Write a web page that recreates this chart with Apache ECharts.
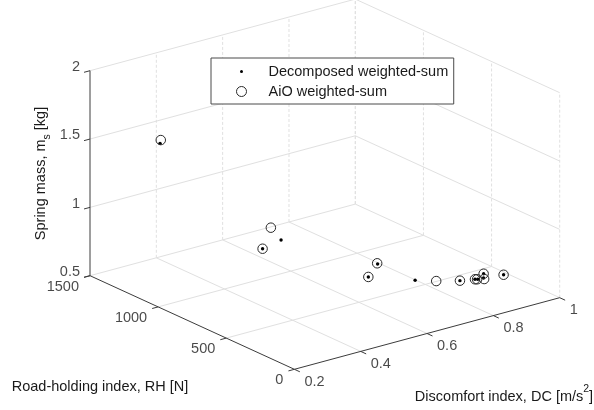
<!DOCTYPE html>
<html><head><meta charset="utf-8">
<style>html,body{margin:0;padding:0;background:#fff}#c{width:594px;height:410px}</style>
<script src="https://cdn.jsdelivr.net/npm/echarts@6/dist/echarts.min.js"></script>
</head><body><div id="c"></div>
<script>
// Tick values
var dcTicks = [0.2, 0.4, 0.6, 0.8, 1];
var rhTicks = [0, 500, 1000, 1500];
var msTicks = [0.5, 1, 1.5, 2];
// Decomposed weighted-sum
var decDC = [0.315, 0.484, 0.441, 0.681, 0.621, 0.730, 0.836, 0.881, 0.876, 0.921, 0.903, 0.966];
var decRH = [1266, 789, 820, 560, 482, 404, 333, 312, 320, 366, 323, 329];
var decMs = [1.5, 0.9, 0.85, 0.7, 0.68, 0.62, 0.58, 0.57, 0.57, 0.56, 0.56, 0.54];
// AiO weighted-sum
var aioDC = [0.33, 0.459, 0.441, 0.683, 0.621, 0.778, 0.836, 0.880, 0.876, 0.921, 0.900, 0.966];
var aioRH = [1297, 803, 820, 568, 482, 366, 333, 314, 320, 366, 311, 329];
var aioMs = [1.5, 1.0, 0.85, 0.7, 0.68, 0.6, 0.58, 0.57, 0.57, 0.56, 0.56, 0.54];

var FONT = '"Liberation Sans", Arial, sans-serif';
var TEXT = '#1a1a1a', AXIS = '#3c3c3c', GRID = '#e0e0e0';
var FS = 14.5;

// Orthographic view of the 3D box onto the page plane
function project(dc, rh, ms) {
  var u = (dc - 0.2) / 0.8, v = rh / 1500, w = (ms - 0.5) / 1.5;
  return [294.4 + 265.3 * u - 204.4 * v, 369.3 - 71.6 * u - 93.6 * v - 205 * w];
}
function seg(a, b, color, dash) {
  return { type: 'line', silent: true, symbol: 'none', z: dash ? 1 : 3, animation: false,
    lineStyle: { color: color, width: 1, type: dash || 'solid' }, data: [a, b] };
}
function tickLabels(items, align, dx, dy) {
  return { type: 'scatter', silent: true, symbolSize: 0, z: 5, animation: false,
    data: items.map(function (t) { return { value: t.p, name: t.s }; }),
    label: { show: true, position: 'inside', offset: [dx, dy], align: align, verticalAlign: 'middle',
      formatter: function (o) { return o.name; }, color: TEXT, fontFamily: FONT, fontSize: FS } };
}
var series = [];
var dc0 = 0.2, dc1 = 1, rh0 = 0, rh1 = 1500, ms0 = 0.5, ms1 = 2;
var DOT = [3, 2];
// Back walls and floor grid
dcTicks.forEach(function (d) {
  if (d > dc0) {
    series.push(seg(project(d, rh1, ms0), project(d, rh1, ms1), GRID, DOT));
    series.push(seg(project(d, rh0, ms0), project(d, rh1, ms0), GRID, 'solid'));
  }
});
rhTicks.forEach(function (r) {
  series.push(seg(project(dc1, r, ms0), project(dc1, r, ms1), GRID, DOT));
  if (r > rh0) series.push(seg(project(dc0, r, ms0), project(dc1, r, ms0), GRID, 'solid'));
});
msTicks.forEach(function (m) {
  if (m > ms0) {
    series.push(seg(project(dc0, rh1, m), project(dc1, rh1, m), GRID, 'solid'));
    series.push(seg(project(dc1, rh1, m), project(dc1, rh0, m), GRID, 'solid'));
  }
});
// Axis lines
series.push(seg(project(dc0, rh1, ms0), project(dc0, rh1, ms1), AXIS));
series.push(seg(project(dc0, rh0, ms0), project(dc0, rh1, ms0), AXIS));
series.push(seg(project(dc0, rh0, ms0), project(dc1, rh0, ms0), AXIS));
// Tick marks
msTicks.forEach(function (m) { series.push(seg(project(dc0, rh1, m), project(dc0 - 0.018, rh1, m), AXIS)); });
rhTicks.forEach(function (r) { series.push(seg(project(dc0, r, ms0), project(dc0 - 0.018, r, ms0), AXIS)); });
dcTicks.forEach(function (d) { series.push(seg(project(d, rh0, ms0), project(d, rh0 - 40, ms0), AXIS)); });
// Tick labels
series.push(tickLabels(msTicks.map(function (m) { return { p: project(dc0, rh1, m), s: String(m) }; }), 'right', -10, -3.7));
series.push(tickLabels(rhTicks.map(function (r) { return { p: project(dc0, r, ms0), s: String(r) }; }), 'right', -11, 11));
series.push(tickLabels(dcTicks.map(function (d) { return { p: project(d, rh0, ms0), s: String(d) }; }), 'left', 10, 12.7));
// Data
function pts(dc, rh, ms) { return dc.map(function (d, i) { return project(d, rh[i], ms[i]); }); }
series.push({ name: 'Decomposed weighted-sum', type: 'scatter', symbol: 'circle', symbolSize: 3.4, z: 4, animation: false,
  itemStyle: { color: '#000', opacity: 1 }, data: pts(decDC, decRH, decMs) });
series.push({ name: 'AiO weighted-sum', type: 'scatter', symbol: 'circle', symbolSize: 9.5, z: 4, animation: false,
  itemStyle: { color: 'transparent', borderColor: '#2a2a2a', borderWidth: 1, opacity: 1 }, data: pts(aioDC, aioRH, aioMs) });

var chart = echarts.init(document.getElementById('c'), null, { renderer: 'canvas' });
chart.setOption({
  animation: false, backgroundColor: '#fff',
  grid: { left: 0, top: 0, width: 594, height: 410 },
  xAxis: { type: 'value', min: 0, max: 594, show: false },
  yAxis: { type: 'value', min: 0, max: 410, inverse: true, show: false },
  legend: {
    left: 211, top: 58, orient: 'vertical', itemWidth: 32, itemHeight: 10, itemGap: 5,
    padding: [6, 5.5, 5, 25], backgroundColor: '#fff', borderColor: '#4a4a4a', borderWidth: 1,
    textStyle: { color: TEXT, fontFamily: FONT, fontSize: FS, padding: [0, 0, 0, 6] },
    selectedMode: false,
    data: [
      { name: 'Decomposed weighted-sum', icon: 'path://M0 0L0 0M10 10L10 10M3.5 5A1.5 1.5 0 1 1 6.5 5A1.5 1.5 0 1 1 3.5 5Z' },
      { name: 'AiO weighted-sum', icon: 'circle', itemStyle: { borderWidth: 1, color: 'transparent', borderColor: '#2a2a2a' } }
    ]
  },
  graphic: [
    { type: 'text', silent: true, x: 100, y: 386.5, style: { text: 'Road-holding index, RH [N]', fill: TEXT, font: FS + 'px ' + FONT, textAlign: 'center', textVerticalAlign: 'middle' } },
    { type: 'text', silent: true, x: 504, y: 394, style: {
        text: '{a|Discomfort index, DC [m/s}{b|2}{a|]}', fill: TEXT, textAlign: 'center', textVerticalAlign: 'middle',
        rich: { a: { font: FS + 'px ' + FONT, fill: TEXT, verticalAlign: 'bottom', lineHeight: 20 }, b: { font: '10.5px ' + FONT, fill: TEXT, verticalAlign: 'top', lineHeight: 20 } } } },
    { type: 'text', silent: true, x: 43, y: 173.5, rotation: Math.PI / 2, style: {
        text: '{a|Spring mass, m}{b|s}{a| [kg]}', fill: TEXT, textAlign: 'center', textVerticalAlign: 'middle',
        rich: { a: { font: FS + 'px ' + FONT, fill: TEXT, verticalAlign: 'top', lineHeight: 20 }, b: { font: '10.5px ' + FONT, fill: TEXT, verticalAlign: 'bottom', lineHeight: 20 } } } }
  ],
  series: series
});
</script></body></html>
